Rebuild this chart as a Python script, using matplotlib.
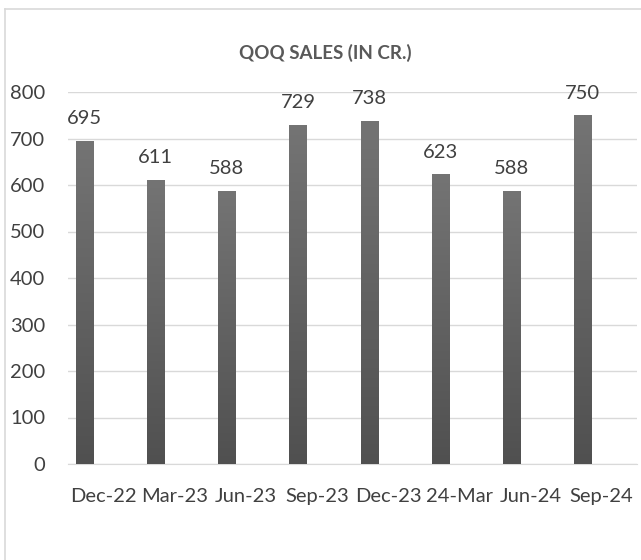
import numpy as np
import matplotlib.pyplot as plt
from matplotlib.lines import Line2D

quarters = ["Dec-22", "Mar-23", "Jun-23", "Sep-23", "Dec-23", "24-Mar", "Jun-24", "Sep-24"]
sales = [695, 611, 588, 729, 738, 623, 588, 750]
y_ticks = [0, 100, 200, 300, 400, 500, 600, 700, 800]

plt.rcParams['font.family'] = ['Lato', 'DejaVu Sans']

fig = plt.figure(figsize=(6.41, 5.6), dpi=100)
ax = fig.add_axes([68 / 641, 1 - 464 / 560, 569 / 641, 372 / 560])

x = np.arange(len(quarters))
bar_w = 0.24
bar_shift = -0.267  # bars sit left of the category centre (clustered layout)
bars = ax.bar(x + bar_shift, sales, width=bar_w, color='#5f5f5f', zorder=2)

# vertical gradient inside each bar (lighter at top)
grad = np.linspace(0, 1, 256).reshape(-1, 1)
cmap = plt.matplotlib.colors.LinearSegmentedColormap.from_list('g', ['#505050', '#747474'])
for b in bars:
    bx, by = b.get_x(), b.get_y()
    bw, bh = b.get_width(), b.get_height()
    im = ax.imshow(grad, cmap=cmap, aspect='auto', origin='lower',
                   extent=[bx, bx + bw, by, by + bh], zorder=3)
    im.set_clip_path(b)

for xi, v in zip(x + bar_shift, sales):
    ax.annotate(str(v), (xi, v), xytext=(0, 12), textcoords='offset points',
                ha='center', va='baseline', fontsize=14.5, color='#404040', zorder=4)

ax.set_xlim(-0.5, len(quarters) - 0.5)
ax.set_ylim(0, 800)
ax.set_yticks(y_ticks)
ax.set_xticks(x)
ax.set_xticklabels(quarters)
ax.tick_params(axis='both', length=0, labelcolor='#404040')
ax.tick_params(axis='y', labelsize=14.5, pad=16.5)
ax.tick_params(axis='x', labelsize=14.5, pad=17)
ax.grid(axis='y', color='#d9d9d9', linewidth=1, zorder=0)
ax.set_axisbelow(True)
for s in ['top', 'right', 'left']:
    ax.spines[s].set_visible(False)
ax.spines['bottom'].set_color('#d9d9d9')

fig.text(325 / 641, 1 - 52.5 / 560, "QOQ SALES (IN CR.)", ha='center', va='center',
         fontsize=13.5, fontweight='bold', color='#595959')

# chart outer border (left and top edges visible)
fig.add_artist(Line2D([5 / 641, 5 / 641], [0, 1 - 9 / 560], transform=fig.transFigure,
                      color='#d9d9d9', linewidth=1.2))
fig.add_artist(Line2D([5 / 641, 1], [1 - 9 / 560, 1 - 9 / 560], transform=fig.transFigure,
                      color='#d9d9d9', linewidth=1.2))

fig.savefig('out.png', dpi=100)
